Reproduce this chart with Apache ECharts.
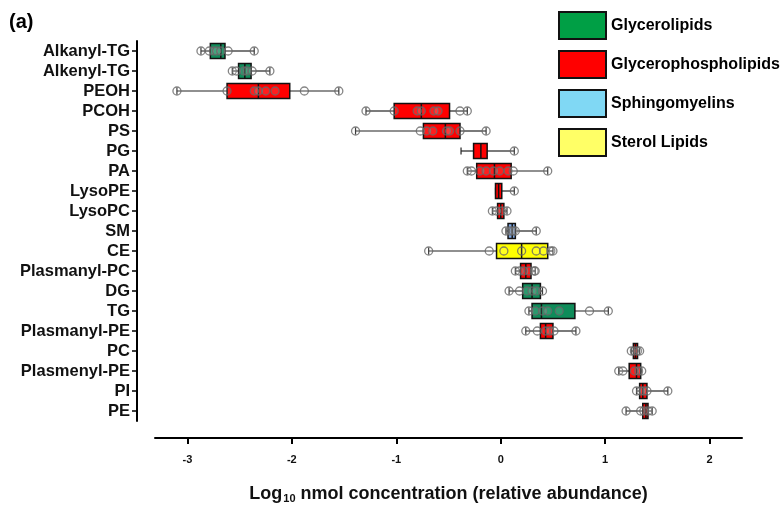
<!DOCTYPE html>
<html>
<head>
<meta charset="utf-8">
<script src="https://cdn.jsdelivr.net/npm/echarts@6/dist/echarts.min.js"></script>
<style>
html,body{margin:0;padding:0;background:#fff;}
#chart{width:784px;height:509px;}
</style>
</head>
<body>
<div id="chart"></div>
<script>
const categories = ['Alkanyl-TG','Alkenyl-TG','PEOH','PCOH','PS','PG','PA','LysoPE','LysoPC','SM','CE','Plasmanyl-PC','DG','TG','Plasmanyl-PE','PC','Plasmenyl-PE','PI','PE'];
const lipidClass = ['Glycerolipids','Glycerolipids','Glycerophospholipids','Glycerophospholipids','Glycerophospholipids','Glycerophospholipids','Glycerophospholipids','Glycerophospholipids','Glycerophospholipids','Sphingomyelins','Sterol Lipids','Glycerophospholipids','Glycerolipids','Glycerolipids','Glycerophospholipids','Glycerophospholipids','Glycerophospholipids','Glycerophospholipids','Glycerophospholipids'];
const classNames = ['Glycerolipids','Glycerophospholipids','Sphingomyelins','Sterol Lipids'];
const whiskerMin = [-2.87,-2.57,-3.10,-1.29,-1.39,-0.38,-0.32,-0.05,-0.08,0.05,-0.69,0.14,0.08,0.27,0.24,1.25,1.13,1.30,1.20];
const quartile1  = [-2.78,-2.51,-2.62,-1.02,-0.74,-0.26,-0.23,-0.05,-0.03,0.07,-0.04,0.19,0.21,0.30,0.38,1.27,1.23,1.33,1.36];
const median     = [-2.68,-2.45,-2.32,-0.76,-0.53,-0.19,-0.06,-0.02,0.00,0.11,0.20,0.24,0.30,0.39,0.43,1.29,1.30,1.36,1.39];
const quartile3  = [-2.64,-2.39,-2.02,-0.49,-0.39,-0.13,0.10,0.01,0.03,0.14,0.45,0.29,0.38,0.71,0.50,1.31,1.34,1.40,1.41];
const whiskerMax = [-2.36,-2.21,-1.55,-0.32,-0.14,0.13,0.45,0.13,0.06,0.34,0.50,0.33,0.40,1.03,0.72,1.33,1.35,1.60,1.45];
const samplePoints = [
  [-2.87,-2.79,-2.75,-2.72,-2.68,-2.61,-2.36],
  [-2.57,-2.53,-2.46,-2.43,-2.38,-2.21],
  [-3.10,-2.62,-2.36,-2.32,-2.25,-2.16,-1.88,-1.55],
  [-1.29,-1.02,-0.80,-0.76,-0.64,-0.60,-0.39,-0.32],
  [-1.39,-0.77,-0.71,-0.65,-0.52,-0.49,-0.39,-0.14],
  [0.13],
  [-0.32,-0.28,-0.20,-0.14,-0.07,-0.01,0.07,0.12,0.45],
  [0.13],
  [-0.08,-0.04,0.01,0.06],
  [0.05,0.09,0.12,0.14,0.34],
  [-0.69,-0.11,0.03,0.20,0.34,0.41,0.48,0.50],
  [0.14,0.18,0.22,0.27,0.32,0.33],
  [0.08,0.18,0.25,0.30,0.34,0.40],
  [0.27,0.33,0.40,0.45,0.56,0.85,1.03],
  [0.24,0.35,0.43,0.47,0.51,0.72],
  [1.25,1.28,1.31,1.33],
  [1.13,1.17,1.28,1.32,1.35],
  [1.30,1.34,1.37,1.40,1.60],
  [1.20,1.34,1.37,1.41,1.45]
];
const xTicks = [-3,-2,-1,0,1,2];

const boxColors = {'Glycerolipids':'#0f8c5a','Glycerophospholipids':'#ff0000','Sphingomyelins':'#7ea7e4','Sterol Lipids':'#ffff00'};
const legendColors = {'Glycerolipids':'#009f45','Glycerophospholipids':'#ff0000','Sphingomyelins':'#80d8f4','Sterol Lipids':'#ffff66'};

const chart = echarts.init(document.getElementById('chart'), null, {renderer:'canvas'});

function renderBox(params, api) {
  const cat = api.value(0);
  const lo = api.coord([api.value(1), cat]);
  const a = api.coord([api.value(2), cat]);
  const m = api.coord([api.value(3), cat]);
  const b = api.coord([api.value(4), cat]);
  const hi = api.coord([api.value(5), cat]);
  const y = lo[1];
  const h = 15;
  const fill = api.visual('color');
  const lineStyle = {stroke:'#222', lineWidth:1.2};
  return {
    type:'group',
    children:[
      {type:'line', shape:{x1:lo[0], y1:y, x2:a[0], y2:y}, style:lineStyle},
      {type:'line', shape:{x1:b[0], y1:y, x2:hi[0], y2:y}, style:lineStyle},
      {type:'line', shape:{x1:lo[0], y1:y-3.5, x2:lo[0], y2:y+3.5}, style:lineStyle},
      {type:'line', shape:{x1:hi[0], y1:y-3.5, x2:hi[0], y2:y+3.5}, style:lineStyle},
      {type:'rect', shape:{x:a[0], y:y-h/2, width:Math.max(b[0]-a[0],1), height:h}, style:{fill:fill, stroke:'#111', lineWidth:1.5}},
      {type:'line', shape:{x1:m[0], y1:y-h/2, x2:m[0], y2:y+h/2}, style:{stroke:'#111', lineWidth:1.5}}
    ]
  };
}

const boxSeries = classNames.map(cls => {
  const data = [];
  categories.forEach((c, i) => {
    if (lipidClass[i] === cls) data.push([i, whiskerMin[i], quartile1[i], median[i], quartile3[i], whiskerMax[i]]);
  });
  return {
    name: cls,
    type: 'custom',
    renderItem: renderBox,
    itemStyle: {color: boxColors[cls]},
    encode: {x:[1,2,3,4,5], y:0},
    data: data,
    z: 2
  };
});

const pointData = [];
samplePoints.forEach((arr, i) => arr.forEach(v => pointData.push([v, i])));

const option = {
  animation:false,
  backgroundColor:'#fff',
  textStyle:{fontFamily:'Liberation Sans, Arial, sans-serif'},
  grid:{left:155, right:42, top:41, bottom:83},
  graphic:[
    {type:'text', left:9, top:12, style:{text:'(a)', font:'bold 20px "Liberation Sans", Arial, sans-serif', fill:'#000'}}
  ],
  legend:{
    orient:'vertical', left:553, top:6, itemWidth:47, itemHeight:27, itemGap:10, icon:'rect',
    selectedMode:false,
    textStyle:{fontSize:16, fontWeight:'bold', color:'#000'},
    data: classNames.map(n => ({name:n, itemStyle:{color:legendColors[n], borderColor:'#111', borderWidth:2}}))
  },
  xAxis:{
    type:'value', min:-3.31, max:2.31, offset:17,
    axisLine:{show:true, onZero:false, lineStyle:{color:'#000', width:2}},
    axisTick:{show:true, length:6, lineStyle:{color:'#000', width:2}, customValues:xTicks},
    axisLabel:{fontSize:11, fontWeight:'bold', color:'#111', margin:16, customValues:xTicks},
    splitLine:{show:false},
    name:'{a|Log}{b|10}{a| nmol concentration (relative abundance)}',
    nameLocation:'middle', nameGap:47,
    nameTextStyle:{rich:{
      a:{fontSize:18, fontWeight:'bold', color:'#111', fontFamily:'Liberation Sans, Arial, sans-serif'},
      b:{fontSize:11, fontWeight:'bold', color:'#111', fontFamily:'Liberation Sans, Arial, sans-serif', padding:[8,0,0,1]}
    }}
  },
  yAxis:{
    type:'category', data:categories, inverse:true, offset:18,
    axisLine:{show:true, onZero:false, lineStyle:{color:'#000', width:2}},
    axisTick:{show:true, alignWithLabel:true, interval:0, length:5, lineStyle:{color:'#000', width:1.5}},
    axisLabel:{fontSize:16.5, fontWeight:'bold', color:'#111', margin:7, interval:0},
    splitLine:{show:false}
  },
  series: boxSeries.concat([{
    type:'scatter',
    name:'points',
    data: pointData,
    symbol:'circle',
    symbolSize:8,
    itemStyle:{color:'rgba(255,255,255,0.15)', borderColor:'#666', borderWidth:1.3},
    z:5
  }])
};
chart.setOption(option);
</script>
</body>
</html>
